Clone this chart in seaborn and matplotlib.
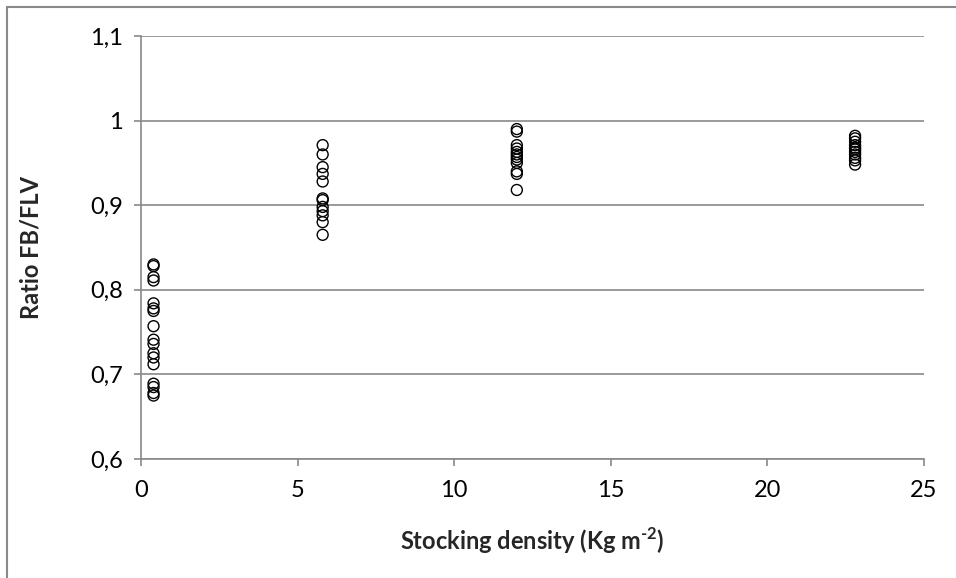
import matplotlib
matplotlib.use("Agg")
import matplotlib.pyplot as plt
import seaborn as sns
import pandas as pd
from matplotlib.ticker import FuncFormatter
from matplotlib.lines import Line2D

densities = [0.4, 5.8, 12.0, 22.8]
ratio_d1 = [0.830, 0.828, 0.815, 0.811, 0.784, 0.778, 0.775, 0.757, 0.741, 0.736,
            0.725, 0.720, 0.712, 0.689, 0.685, 0.678, 0.675]
ratio_d2 = [0.971, 0.960, 0.945, 0.937, 0.928, 0.908, 0.906, 0.898, 0.893, 0.888,
            0.880, 0.865]
ratio_d3 = [0.990, 0.987, 0.971, 0.967, 0.963, 0.960, 0.957, 0.954, 0.950, 0.940,
            0.937, 0.918]
ratio_d4 = [0.982, 0.979, 0.975, 0.971, 0.968, 0.966, 0.963, 0.960, 0.956, 0.953,
            0.948]
x_ticks = [0, 5, 10, 15, 20, 25]
y_ticks = [0.6, 0.7, 0.8, 0.9, 1.0, 1.1]

rows = []
for d, vals in zip(densities, [ratio_d1, ratio_d2, ratio_d3, ratio_d4]):
    for v in vals:
        rows.append({"density": d, "ratio": v})
df = pd.DataFrame(rows)

sns.set_theme(style="white")
plt.rcParams["font.family"] = ["Lato", "DejaVu Sans"]
plt.rcParams["mathtext.fontset"] = "custom"
plt.rcParams["mathtext.rm"] = "Lato:bold"
plt.rcParams["mathtext.bf"] = "Lato:bold"

fig = plt.figure(figsize=(9.56, 5.78), dpi=100)
ax = fig.add_axes([0.1475, 0.2059, 0.819, 0.7318])

grey = "#898989"
sns.scatterplot(data=df, x="density", y="ratio", ax=ax, marker="o",
                facecolor="none", edgecolor="black", linewidth=1.0, s=62,
                zorder=3)

ax.set_xlim(0, 25)
ax.set_ylim(0.6, 1.1)
ax.set_xticks(x_ticks)
ax.set_yticks(y_ticks)
fmt = FuncFormatter(lambda v, p: f"{v:g}".replace(".", ","))
ax.xaxis.set_major_formatter(fmt)
ax.yaxis.set_major_formatter(fmt)

ax.yaxis.grid(True, color=grey, linewidth=1.2)
ax.xaxis.grid(False)
ax.set_axisbelow(True)
for side in ["top", "right"]:
    ax.spines[side].set_visible(False)
for side in ["left", "bottom"]:
    ax.spines[side].set_color(grey)
    ax.spines[side].set_linewidth(1.2)

ax.tick_params(axis="both", which="major", direction="out", length=5,
               width=1.2, color=grey, labelsize=17, labelcolor="black")
ax.tick_params(axis="x", pad=10)
ax.tick_params(axis="y", pad=8)
ax.xaxis.set_ticks_position("bottom")
ax.yaxis.set_ticks_position("left")

ax.set_xlabel(r"Stocking density (Kg m$^{\text{-2}}$)", fontsize=17,
              fontweight="bold", labelpad=18)
ax.set_ylabel("Ratio FB/FLV", fontsize=17, fontweight="bold", labelpad=34)

# chart area border (left and top visible)
fig.add_artist(Line2D([7/956, 7/956], [0, 1 - 7/578], transform=fig.transFigure,
                      color=grey, linewidth=1.5))
fig.add_artist(Line2D([7/956, 1], [1 - 7/578, 1 - 7/578], transform=fig.transFigure,
                      color=grey, linewidth=1.5))

fig.savefig("out.png", dpi=100)
